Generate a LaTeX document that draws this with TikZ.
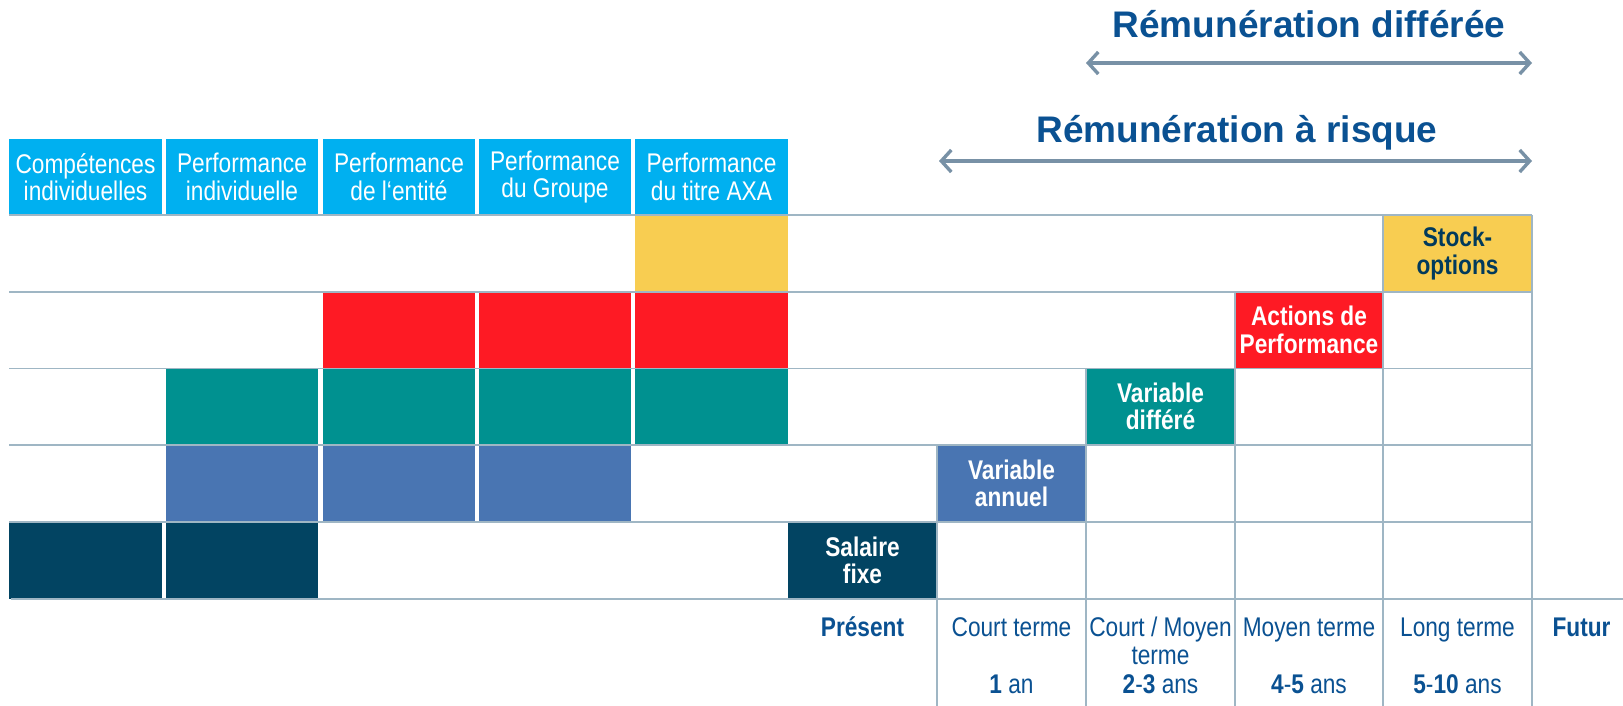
\documentclass[tikz,border=0pt]{standalone}
\usepackage{fontspec}
\setmainfont{Liberation Sans}
\newfontfamily\narrowfont[FakeStretch=0.84]{Liberation Sans}
\usetikzlibrary{arrows.meta}
\definecolor{hdrcyan}{HTML}{00B0F0}
\definecolor{cyellow}{HTML}{F8CD51}
\definecolor{cred}{HTML}{FE1A24}
\definecolor{cteal}{HTML}{009190}
\definecolor{cblue}{HTML}{4975B2}
\definecolor{cnavy}{HTML}{024462}
\definecolor{txtblue}{HTML}{0A5192}
\definecolor{stocktxt}{HTML}{013A5C}
\definecolor{gridc}{HTML}{9FB6C4}
\definecolor{arrowc}{HTML}{7891A6}
\tikzset{
  cellbox/.style={minimum width=#1, minimum height=76.6pt, inner sep=0pt, outer sep=0pt, align=center,
    text=white, font={\narrowfont\bfseries\fontsize{27}{27.5}\selectfont}},
  cellbox/.default=149pt,
  hdrbox/.style={fill=hdrcyan, minimum width=152.5pt, minimum height=76pt, inner sep=0pt, outer sep=0pt,
    align=center, text=white, font={\narrowfont\fontsize{27}{27.5}\selectfont}},
  fillbox/.style={minimum width=152.5pt, minimum height=76.6pt, inner sep=0pt, outer sep=0pt},
  gridline/.style={draw=gridc, line width=1.6pt},
  bigarrow/.style={draw=arrowc, line width=3.4pt,
    {Straight Barb[length=10pt,width=22pt]}-{Straight Barb[length=10pt,width=22pt]}},
  title/.style={anchor=base, text=txtblue, font={\bfseries\fontsize{37}{40}\selectfont}},
  botlbl/.style={anchor=base, text=txtblue, align=center, font={\narrowfont\fontsize{27}{28}\selectfont}},
}
\begin{document}
\begin{tikzpicture}[x=1pt,y=-1pt]
\useasboundingbox[fill=white] (0,0) rectangle (1623,706);

% header boxes
\node[hdrbox] (h1) at (85.5,177) {Compétences\\individuelles};
\node[hdrbox] (h2) at (242,177) {Performance\\individuelle};
\node[hdrbox] (h3) at (399,177) {Performance\\de l‘entité};
\node[hdrbox] (h4) at (555,177) {Performance\\du Groupe};
\node[hdrbox] (h5) at (711.5,177) {Performance\\du titre AXA};

% left coloured fills
\node[fillbox, fill=cyellow] (y5) at (711.5,253.5) {};
\node[fillbox, fill=cred] (r3) at (399,330) {};
\node[fillbox, fill=cred] (r4) at (555,330) {};
\node[fillbox, fill=cred] (r5) at (711.5,330) {};
\node[fillbox, fill=cteal] (t2) at (242,406.5) {};
\node[fillbox, fill=cteal] (t3) at (399,406.5) {};
\node[fillbox, fill=cteal] (t4) at (555,406.5) {};
\node[fillbox, fill=cteal] (t5) at (711.5,406.5) {};
\node[fillbox, fill=cblue] (b2) at (242,483.5) {};
\node[fillbox, fill=cblue] (b3) at (399,483.5) {};
\node[fillbox, fill=cblue] (b4) at (555,483.5) {};
\node[fillbox, fill=cnavy] (n1) at (85.5,560.5) {};
\node[fillbox, fill=cnavy] (n2) at (242,560.5) {};

% right diagonal cells
\node[cellbox, fill=cnavy] (sal) at (862.5,560.5) {Salaire\\fixe};
\node[cellbox, fill=cblue] (van) at (1011.5,483.5) {Variable\\annuel};
\node[cellbox, fill=cteal] (vdi) at (1160.5,406.5) {Variable\\différé};
\node[cellbox, fill=cred] (act) at (1309,330) {Actions de\\Performance};
\node[cellbox, fill=cyellow, text=stocktxt] (sto) at (1457.5,253.5) {Stock-\\options};

% grid lines
\draw[gridline] (9,215) -- (1532,215);
\draw[gridline] (9,292) -- (1532,292);
\draw[gridline] (9,368.5) -- (1532,368.5);
\draw[gridline] (9,445) -- (1532,445);
\draw[gridline] (9,522) -- (1532,522);
\draw[gridline] (11,599) -- (1623,599);
\draw[gridline] (937,445) -- (937,706);
\draw[gridline] (1086,368.5) -- (1086,706);
\draw[gridline] (1235,292) -- (1235,706);
\draw[gridline] (1383,215) -- (1383,706);
\draw[gridline] (1532,215) -- (1532,706);

% titles and arrows
\node[title] (t1) at (1309,38) {Rémunération différée};
\node[title] (t2t) at (1237,143) {Rémunération à risque};
\coordinate (a1l) at (1086,63);
\coordinate (a1r) at (1532,63);
\coordinate (a2l) at (939,161);
\coordinate (a2r) at (1532,161);
\draw[bigarrow] (a1l) -- (a1r);
\draw[bigarrow] (a2l) -- (a2r);

% bottom labels
\node[botlbl, font={\narrowfont\bfseries\fontsize{27}{28}\selectfont}] (pres) at (862.5,636) {Présent};
\node[botlbl] (ct) at (1011.5,636) {Court terme};
\node[botlbl] (cmt) at (1160.5,636) {Court / Moyen};
\node[botlbl] (cmt2) at (1160.5,664) {terme};
\node[botlbl] (mt) at (1309,636) {Moyen terme};
\node[botlbl] (lt) at (1457.5,636) {Long terme};
\node[botlbl, font={\narrowfont\bfseries\fontsize{27}{28}\selectfont}] (fut) at (1581.5,636) {Futur};
\node[botlbl] (d1) at (1011.5,693) {\textbf{1} an};
\node[botlbl] (d2) at (1160.5,693) {\textbf{2}-\textbf{3} ans};
\node[botlbl] (d3) at (1309,693) {\textbf{4}-\textbf{5} ans};
\node[botlbl] (d4) at (1457.5,693) {\textbf{5}-\textbf{10} ans};
\end{tikzpicture}
\end{document}
